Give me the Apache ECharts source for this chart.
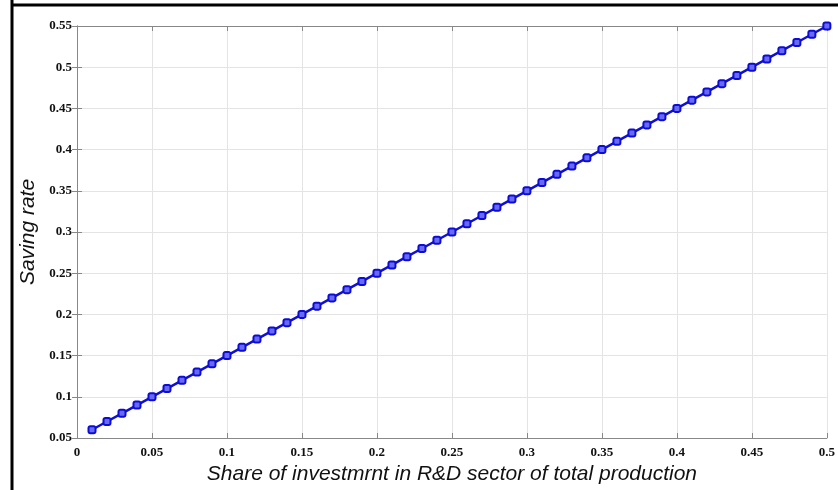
<!DOCTYPE html>
<html><head><meta charset="utf-8">
<script src="https://cdn.jsdelivr.net/npm/echarts@6/dist/echarts.min.js"></script>
<style>html,body{margin:0;padding:0;background:#fff}#c{width:838px;height:490px}</style>
</head><body><div id="c"></div>
<script>
const shareRD = [0.01,0.02,0.03,0.04,0.05,0.06,0.07,0.08,0.09,0.10,0.11,0.12,0.13,0.14,0.15,0.16,0.17,0.18,0.19,0.20,0.21,0.22,0.23,0.24,0.25,0.26,0.27,0.28,0.29,0.30,0.31,0.32,0.33,0.34,0.35,0.36,0.37,0.38,0.39,0.40,0.41,0.42,0.43,0.44,0.45,0.46,0.47,0.48,0.49,0.50];
const savingRate = [0.06,0.07,0.08,0.09,0.10,0.11,0.12,0.13,0.14,0.15,0.16,0.17,0.18,0.19,0.20,0.21,0.22,0.23,0.24,0.25,0.26,0.27,0.28,0.29,0.30,0.31,0.32,0.33,0.34,0.35,0.36,0.37,0.38,0.39,0.40,0.41,0.42,0.43,0.44,0.45,0.46,0.47,0.48,0.49,0.50,0.51,0.52,0.53,0.54,0.55];
const xName = 'Share of investmrnt in R&D sector of total production';
const yName = 'Saving rate';

const chart = echarts.init(document.getElementById('c'));
const labelFont = {fontFamily:'Liberation Serif', fontWeight:'bold', fontSize:13, color:'#111'};
const axisLineStyle = {lineStyle:{color:'#888', width:1}};
chart.setOption({
  animation:false,
  backgroundColor:'#fff',
  grid:{left:77, right:10, top:26, bottom:52},
  graphic:[
    {type:'line', shape:{x1:12,y1:0,x2:12,y2:490}, style:{stroke:'#000', lineWidth:3}},
    {type:'line', shape:{x1:12,y1:5,x2:838,y2:5}, style:{stroke:'#000', lineWidth:3}}
  ],
  xAxis:[{
    type:'value', min:0, max:0.5, interval:0.05, position:'bottom',
    name:xName, nameLocation:'middle', nameGap:24,
    nameTextStyle:{fontFamily:'Liberation Sans', fontStyle:'italic', fontSize:21, color:'#111'},
    axisLine:axisLineStyle, axisTick:{inside:true, length:5, lineStyle:{color:'#888'}},
    axisLabel:Object.assign({margin:8}, labelFont),
    splitLine:{show:true, lineStyle:{color:'#e4e4e4', width:1}}
  },{
    type:'value', min:0, max:0.5, interval:0.05, position:'top',
    axisLine:axisLineStyle, axisTick:{inside:true, length:5, lineStyle:{color:'#888'}},
    axisLabel:{show:false}, splitLine:{show:false}
  }],
  yAxis:[{
    type:'value', min:0.05, max:0.55, interval:0.05, position:'left',
    name:yName, nameLocation:'middle', nameGap:38,
    nameTextStyle:{fontFamily:'Liberation Sans', fontStyle:'italic', fontSize:21, color:'#111'},
    axisLine:axisLineStyle, axisTick:{inside:true, length:5, lineStyle:{color:'#888'}},
    axisLabel:Object.assign({margin:5}, labelFont),
    splitLine:{show:true, lineStyle:{color:'#e4e4e4', width:1}}
  },{
    type:'value', min:0.05, max:0.55, interval:0.05, position:'right',
    axisLine:axisLineStyle, axisTick:{inside:true, length:5, lineStyle:{color:'#888'}},
    axisLabel:{show:false}, splitLine:{show:false}
  }],
  series:[{
    type:'line',
    data:shareRD.map((x,i)=>[x, savingRate[i]]),
    symbol:'roundRect', symbolSize:7,
    itemStyle:{color:'#6a6af0', borderColor:'#0c0cd8', borderWidth:2},
    lineStyle:{color:'#1010d0', width:2.5},
    z:5
  }]
});
</script></body></html>
